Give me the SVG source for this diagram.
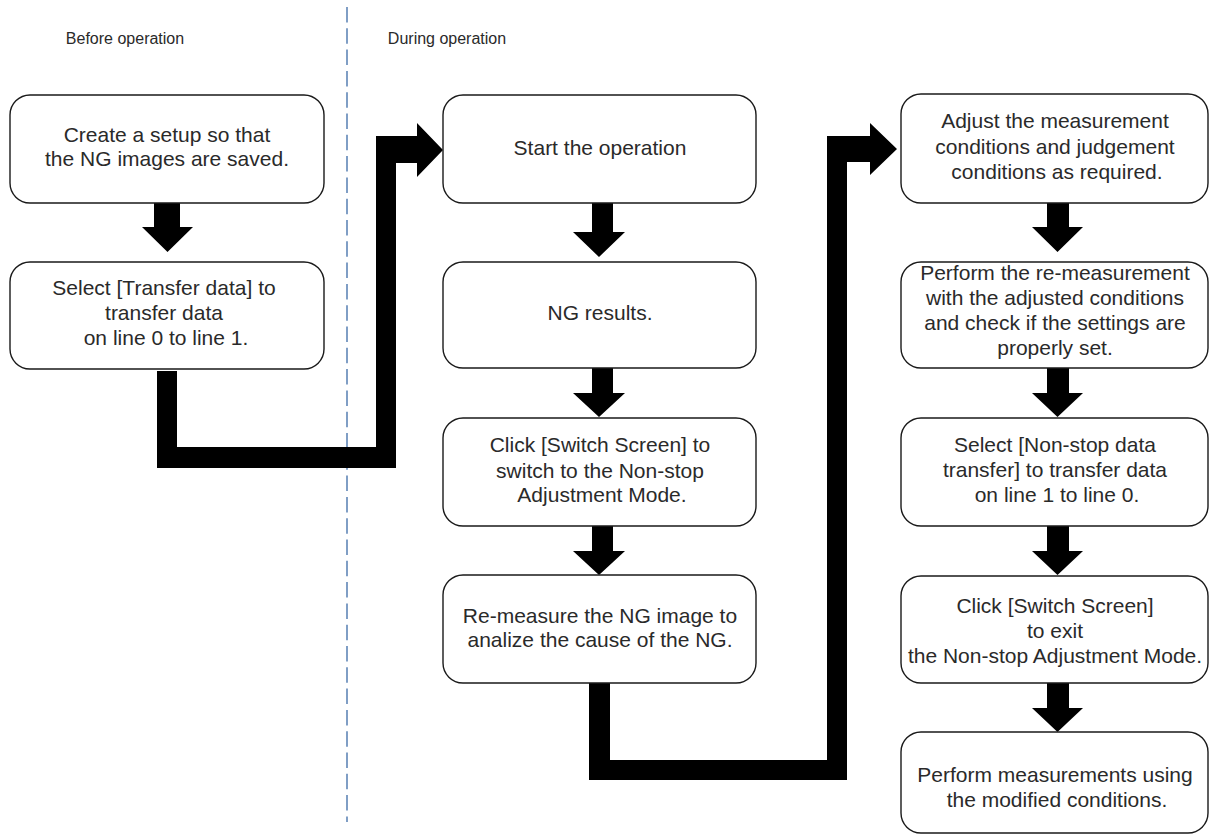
<svg xmlns="http://www.w3.org/2000/svg" width="1210" height="836" viewBox="0 0 1210 836">
<style>
.box{fill:#fff;stroke:#1a1a1a;stroke-width:1.4}
.t{font-family:"Liberation Sans",Arial,sans-serif;font-size:21px;fill:#2a2a2a;text-anchor:middle}
.h{font-family:"Liberation Sans",Arial,sans-serif;font-size:16px;fill:#2a2a2a;text-anchor:middle}
.ar{fill:#000}
</style>
<rect width="1210" height="836" fill="#fff"/>
<line x1="347" y1="7" x2="347" y2="822" stroke="#4a76ad" stroke-width="1.4" stroke-dasharray="15.5 5.8"/>
<text class="h" x="125" y="44">Before operation</text>
<text class="h" x="447" y="44">During operation</text>

<g id="connectors">
  <path class="ar" d="M154,203 H180 V227 H193 L167.5,252 L142,227 H154 Z"/>
  <path class="ar" d="M592,203 H613 V232 H625 L599,257 L573,232 H592 Z"/>
  <path class="ar" d="M592,368 H613 V393 H625 L599,417 L573,393 H592 Z"/>
  <path class="ar" d="M592,526 H613 V551 H625 L599,575 L573,551 H592 Z"/>
  <path class="ar" d="M1047,203 H1069 V227 H1083 L1057.5,252 L1032,227 H1047 Z"/>
  <path class="ar" d="M1047,368 H1069 V393 H1083 L1057.5,417 L1032,393 H1047 Z"/>
  <path class="ar" d="M1047,526 H1069 V551 H1083 L1057.5,575 L1032,551 H1047 Z"/>
  <path class="ar" d="M1047,683 H1069 V708 H1083 L1057.5,732 L1032,708 H1047 Z"/>
  <path class="ar" d="M157,371 H177 V447 H376 V136 H417 V123 L443,150 L417,177 V163 H396 V468 H157 Z"/>
  <path class="ar" d="M589,683 H610 V760 H827 V136 H870 V123 L897,149 L870,175 V162 H847 V780 H589 Z"/>
</g>

<g id="n1"><rect class="box" x="10" y="95" width="314" height="108" rx="20"/>
<text class="t" x="167" y="142">Create a setup so that</text>
<text class="t" x="167" y="166">the NG images are saved.</text></g>
<g id="n2"><rect class="box" x="10" y="262" width="314" height="107" rx="20"/>
<text class="t" x="164" y="295">Select [Transfer data] to</text>
<text class="t" x="164" y="320">transfer data</text>
<text class="t" x="166" y="345"> on line 0 to line 1.</text></g>

<g id="n3"><rect class="box" x="443" y="95" width="313" height="108" rx="20"/>
<text class="t" x="600" y="155">Start the operation</text></g>
<g id="n4"><rect class="box" x="443" y="262" width="313" height="106" rx="20"/>
<text class="t" x="600" y="320">NG results.</text></g>
<g id="n5"><rect class="box" x="443" y="418" width="313" height="108" rx="20"/>
<text class="t" x="600" y="452">Click [Switch Screen] to</text>
<text class="t" x="600" y="478">switch to the Non-stop</text>
<text class="t" x="602" y="502">Adjustment Mode.</text></g>
<g id="n6"><rect class="box" x="443" y="575" width="313" height="108" rx="20"/>
<text class="t" x="600" y="623">Re-measure the NG image to</text>
<text class="t" x="600" y="647">analize the cause of the NG.</text></g>

<g id="n7"><rect class="box" x="901" y="94" width="307" height="109" rx="20"/>
<text class="t" x="1055" y="128">Adjust the measurement</text>
<text class="t" x="1055" y="154">conditions and judgement</text>
<text class="t" x="1057" y="179">conditions as required.</text></g>
<g id="n8"><rect class="box" x="901" y="262" width="307" height="106" rx="20"/>
<text class="t" x="1055" y="280">Perform the re-measurement</text>
<text class="t" x="1055" y="305">with the adjusted conditions</text>
<text class="t" x="1055" y="330">and check if the settings are</text>
<text class="t" x="1055" y="355">properly set.</text></g>
<g id="n9"><rect class="box" x="901" y="418" width="307" height="108" rx="20"/>
<text class="t" x="1055" y="452">Select [Non-stop data</text>
<text class="t" x="1055" y="477">transfer] to transfer data</text>
<text class="t" x="1057" y="502">on line 1 to line 0.</text></g>
<g id="n10"><rect class="box" x="901" y="576" width="307" height="107" rx="20"/>
<text class="t" x="1055" y="613">Click [Switch Screen]</text>
<text class="t" x="1055" y="638">to exit</text>
<text class="t" x="1055" y="663">the Non-stop Adjustment Mode.</text></g>
<g id="n11"><rect class="box" x="901" y="732" width="307" height="101" rx="20"/>
<text class="t" x="1055" y="782">Perform measurements using</text>
<text class="t" x="1057" y="807">the modified conditions.</text></g>
</svg>
